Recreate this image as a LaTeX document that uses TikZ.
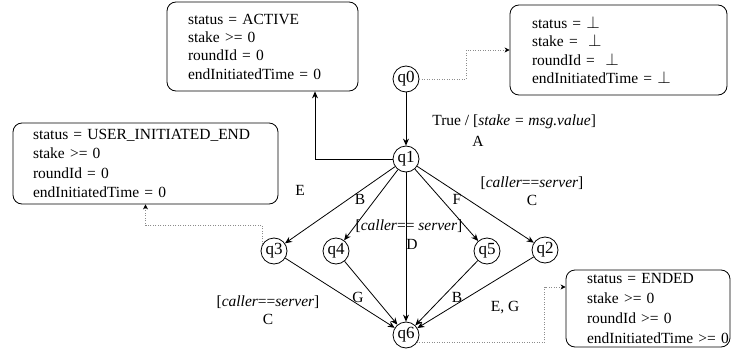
\documentclass[tikz,border=0pt]{standalone}
\usepackage{fontspec}
\setmainfont{Liberation Serif}
\usepackage{tikz}
\usetikzlibrary{arrows.meta}
\definecolor{link_gray}{HTML}{8c8c8c}
\newcommand{\undefval}{{\fontsize{18.5}{17}\selectfont$\perp$}}

\begin{document}
\begin{tikzpicture}[x=1pt, y=-1pt, line width=0.8pt,
        font=\fontsize{15.5}{18.5}\selectfont,
        state/.style={draw, circle, minimum size=26pt, inner sep=0pt, font=\fontsize{17}{20}\selectfont},
        info/.style={draw, rounded corners=9pt, align=left, inner ysep=0pt},
        lbl/.style={inner sep=0pt},
        arr/.style={-{Stealth[length=7pt, width=6pt]}},
        dotlink/.style={draw=link_gray, line width=0.7pt, dash pattern=on 1pt off 1.5pt, -{Stealth[length=5pt, width=5pt, black]}}]
    \useasboundingbox (0,0) rectangle (734,356);

    % states
    \node[state] (q0) at (406,79) {q0};
    \node[state] (q1) at (406,159) {q1};
    \node[state] (q3) at (274,251) {q3};
    \node[state] (q4) at (336,251) {q4};
    \node[state] (q5) at (487,251) {q5};
    \node[state] (q2) at (545,250) {q2};
    \node[state] (q6) at (406,335) {q6};

    % variable boxes
    \node[info, inner xsep=21pt, text width=149pt, minimum height=89pt, font=\fontsize{15.5}{18.3}\selectfont] (active) at (262.5,46.5)
        {status = ACTIVE\\ stake >= 0\\ roundId = 0\\ endInitiatedTime = 0};
    \node[info, inner xsep=22pt, text width=173pt, minimum height=90pt, font=\fontsize{15.5}{18.6}\selectfont] (undef) at (618.5,50)
        {status = \undefval\\ stake = \ \undefval\\ roundId = \ \undefval\\ endInitiatedTime = \undefval};
    \node[info, inner xsep=20pt, text width=225pt, minimum height=81pt, font=\fontsize{15.5}{19.3}\selectfont] (userend) at (145.5,163.5)
        {status = USER\_INITIATED\_END\\ stake >= 0\\ roundId = 0\\ endInitiatedTime = 0};
    \node[info, inner xsep=21pt, text width=122pt, minimum height=77pt, font=\fontsize{15.5}{19.7}\selectfont] (ended) at (648,308.5)
        {status = ENDED\\ stake >= 0\\ roundId >= 0\\ \makebox[122pt][l]{endInitiatedTime >= 0}};

    % transitions
    \draw[arr] (q0) -- (q1);
    \draw[arr] (q1.west) -| ([xshift=52.5pt]active.south);
    \draw[arr] (q1) -- (q3);
    \draw[arr] (q1) -- (q4);
    \draw[arr] (q1) -- (q6);
    \draw[arr] (q1) -- (q5);
    \draw[arr] (q1) -- (q2);
    \draw[arr] (q3) -- (q6);
    \draw[arr] (q4) -- (q6);
    \draw[arr] (q5) -- (q6);
    \draw[arr] (q2) -- (q6);

    % links to the boxes
    \draw[dotlink] (q0.east) -| ([xshift=-43pt]undef.west) -- (undef.west);
    \draw[dotlink] (q3.150) |- ([yshift=-21pt]userend.south) -- (userend.south);
    \draw[dotlink] (q6.-35) -| ([xshift=-21pt, yshift=21.5pt]ended.west) -- ([yshift=21.5pt]ended.west);

    % labels
    \node[lbl, anchor=west] (lblA) at (432,122) {True / [\textit{stake = msg.value}]};
    \node[lbl] (lblA2) at (478,141) {A};
    \node[lbl] (lblE) at (300,190) {E};
    \node[lbl] (lblB) at (360,199) {B};
    \node[lbl] (lblF) at (457,199) {F};
    \node[lbl, align=center] (lblC) at (532,191) {[\textit{caller}==\textit{server}]\\ C};
    \node[lbl] (lblD) at (409,226) {[\textit{caller}== \textit{server}]};
    \node[lbl] (lblD2) at (412,244) {D};
    \node[lbl, align=center] (lblC2) at (268,310) {[\textit{caller}==\textit{server}]\\ C};
    \node[lbl] (lblG) at (358,297) {G};
    \node[lbl] (lblB2) at (457,297) {B};
    \node[lbl] (lblEG) at (505,308) {E, G};

\end{tikzpicture}
\end{document}
